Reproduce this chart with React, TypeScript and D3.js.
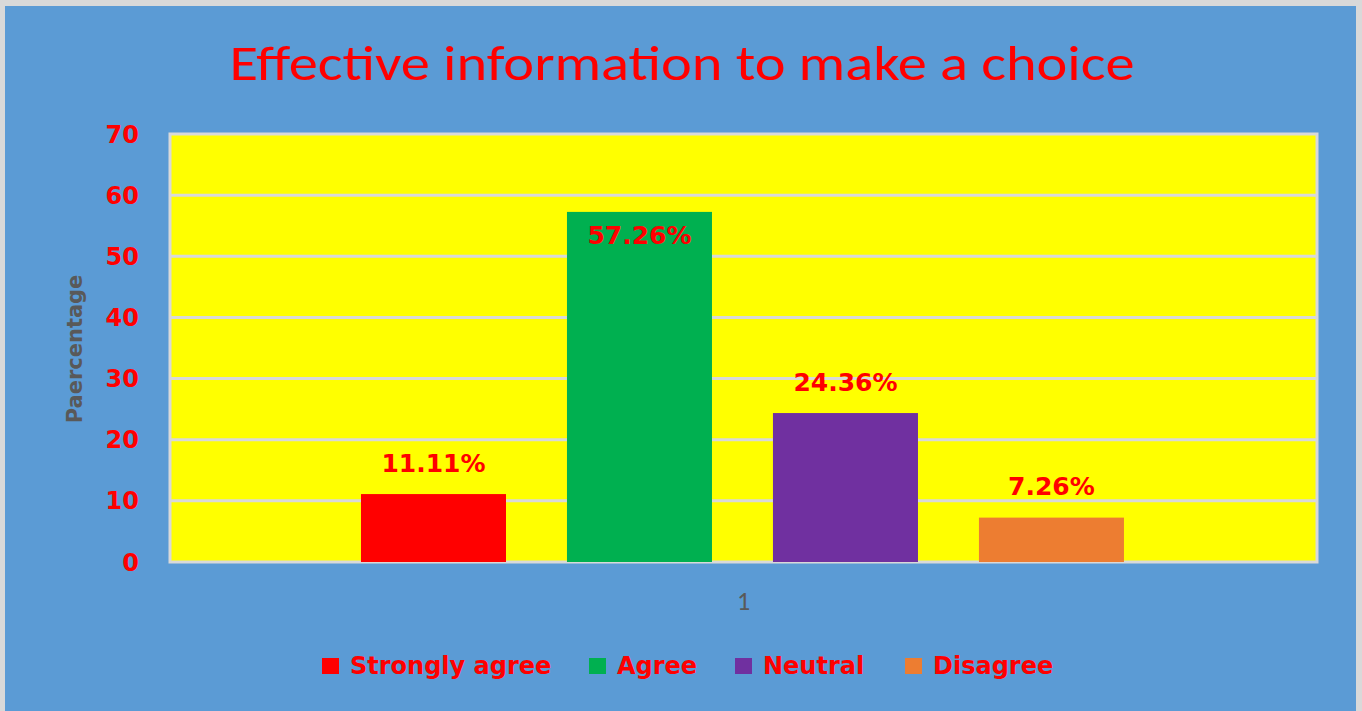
import React from "react";
import * as d3 from "d3";

const categories = ["Strongly agree", "Agree", "Neutral", "Disagree"];
const values = [11.11, 57.26, 24.36, 7.26];
const labels = ["11.11%", "57.26%", "24.36%", "7.26%"];
const colors = ["#FF0000", "#00B050", "#7030A0", "#ED7D31"];
const yTicks = [0, 10, 20, 30, 40, 50, 60, 70];
const xCategory = ["1"];

const W = 1362;
const H = 711;
const plot = { left: 170, right: 1317, top: 134, bottom: 562 };
const titleFont = "Carlito, Calibri, Lato, 'Open Sans', sans-serif";
const boldFont = "'DejaVu Sans', Verdana, sans-serif";

export default function App() {
  const y = d3.scaleLinear().domain([0, 70]).range([plot.bottom, plot.top]);
  const x0 = d3.scaleBand().domain(xCategory).range([plot.left, plot.right]);
  const groupW = x0.bandwidth();
  const gx = x0("1")!;
  const inner = d3
    .scaleBand()
    .domain(categories)
    .range([gx + groupW * 0.1665, gx + groupW * 0.8317])
    .paddingInner(0.296);

  const legendSquares = [322, 589, 735, 905];

  return (
    <svg
      width={W}
      height={H}
      style={{ position: "absolute", left: 0, top: 0, display: "block" }}
    >
      <rect x={0} y={0} width={W} height={H} fill="#D9D9D9" />
      <rect x={5} y={6} width={1351} height={H - 6} fill="#5B9BD5" />
      <text
        x={682}
        y={80}
        textAnchor="middle"
        fill="#FF0000"
        fontSize={50}
        fontFamily={titleFont}
        textLength={905}
        lengthAdjust="spacingAndGlyphs"
      >
        Effective information to make a choice
      </text>
      <rect
        x={plot.left}
        y={plot.top}
        width={plot.right - plot.left}
        height={plot.bottom - plot.top}
        fill="#FFFF00"
        stroke="#D9D9D9"
        strokeWidth={3}
      />
      {yTicks.map((t) => (
        <g key={t}>
          {t > 0 && t < 70 && (
            <line
              x1={plot.left}
              x2={plot.right}
              y1={y(t)}
              y2={y(t)}
              stroke="#D9D9D9"
              strokeWidth={3}
            />
          )}
          <text
            x={139}
            y={y(t)}
            dy="0.36em"
            textAnchor="end"
            fill="#FF0000"
            fontWeight="bold"
            fontFamily={boldFont}
            fontSize={24}
          >
            {t}
          </text>
        </g>
      ))}
      {categories.map((c, i) => {
        const bx = inner(c)!;
        const bw = inner.bandwidth();
        const top = y(values[i]);
        const inside = i === 1;
        return (
          <g key={c}>
            <rect x={bx} y={top} width={bw} height={plot.bottom - top} fill={colors[i]} />
            <text
              x={bx + bw / 2}
              y={inside ? top + 23.5 : top - 31.5}
              dy="0.36em"
              textAnchor="middle"
              fill="#FF0000"
              fontWeight="bold"
              fontFamily={boldFont}
              fontSize={25}
            >
              {labels[i]}
            </text>
          </g>
        );
      })}
      <text
        x={gx + groupW / 2}
        y={600.5}
        dy="0.36em"
        textAnchor="middle"
        fill="#595959"
        fontFamily={titleFont}
        fontSize={26}
      >
        {xCategory[0]}
      </text>
      <text
        transform={`translate(82,349) rotate(-90)`}
        textAnchor="middle"
        fill="#595959"
        fontWeight="bold"
        fontFamily={boldFont}
        fontSize={21}
      >
        Paercentage
      </text>
      {categories.map((c, i) => (
        <g key={c}>
          <rect x={legendSquares[i]} y={658} width={17} height={16} fill={colors[i]} />
          <text
            x={legendSquares[i] + 28}
            y={674}
            fill="#FF0000"
            fontWeight="bold"
            fontFamily={boldFont}
            fontSize={24}
          >
            {c}
          </text>
        </g>
      ))}
    </svg>
  );
}
